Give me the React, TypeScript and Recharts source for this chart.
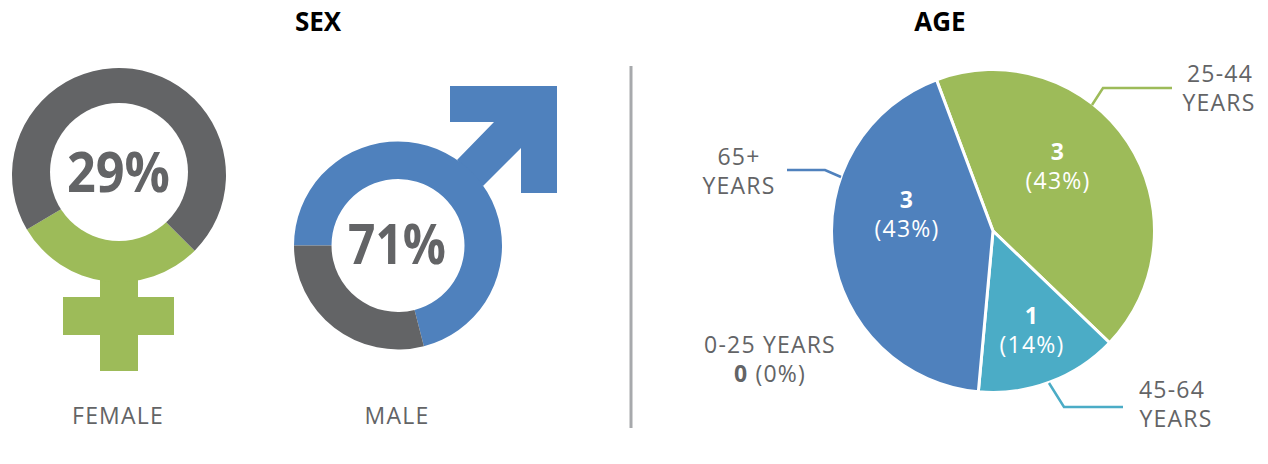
import { PieChart, Pie, Cell } from "recharts";

const femaleNames = ["Female", "Other"];
const femaleValues = [29, 71];
const maleNames = ["Male", "Other"];
const maleValues = [71, 29];

const ageNames = ["25-44 YEARS", "45-64 YEARS", "0-25 YEARS", "65+ YEARS"];
const ageCounts = [3, 1, 0, 3];
const agePercents = ["43%", "14%", "0%", "43%"];

const GREEN = "#9dbb59";
const BLUE = "#4f81bd";
const TEAL = "#4bacc6";
const GRAY = "#636466";

const femaleColors = [GREEN, GRAY];
const maleColors = [BLUE, GRAY];
const ageColors = [GREEN, TEAL, "#8064a2", BLUE];

const FONT = "'Open Sans', sans-serif";
const TRACK = 1.2;

const femaleData = femaleNames.map((name, i) => ({ name, value: femaleValues[i] }));
const maleData = maleNames.map((name, i) => ({ name, value: maleValues[i] }));
const ageData = ageNames.map((name, i) => ({
  name,
  value: ageCounts[i],
  percent: agePercents[i]
}));

// where the hand placed labels sit, by slice
const insideSpots: any = {
  "25-44 YEARS": [1058, 160, 189],
  "45-64 YEARS": [1032, 324, 353],
  "65+ YEARS": [907, 208, 237]
};

const leaders: any = {
  "25-44 YEARS": "1092,105 1103,88 1172,88",
  "45-64 YEARS": "1049,383 1064,407 1123,407",
  "65+ YEARS": "787,170 825,170 841,177"
};

const outsideText: any = {
  "25-44 YEARS": [1220, "25-44", 82, 111, 1219],
  "45-64 YEARS": [1172, "45-64", 398, 427, 1176],
  "65+ YEARS": [739, "65+", 165, 194, 739]
};

function AgeLabel(props: any) {
  const { index } = props;
  const label = ageData[index];

  if (!label) return null;

  if (label.value === 0) {
    return (
      <g fontFamily={FONT} fontSize={23} fill={GRAY} textAnchor="middle" letterSpacing={TRACK}>
        <text x={770} y={353}>{label.name}</text>
        <text x={770} y={382}>
          <tspan fontWeight={700}>{label.value}</tspan> ({label.percent})
        </text>
      </g>
    );
  }

  const spot = insideSpots[label.name];
  const out = outsideText[label.name];

  return (
    <g fontFamily={FONT} fontSize={23} textAnchor="middle" letterSpacing={TRACK}>
      <polyline
        points={leaders[label.name]}
        fill="none"
        stroke={ageColors[index]}
        strokeWidth={2.5}
      />
      <text x={spot[0]} y={spot[1]} fill="#fff" fontWeight={700}>{label.value}</text>
      <text x={spot[0]} y={spot[2]} fill="#fff">({label.percent})</text>
      <text x={out[0]} y={out[2]} fill={GRAY}>{out[1]}</text>
      <text x={out[4]} y={out[3]} fill={GRAY}>YEARS</text>
    </g>
  );
}

export default function App() {
  return (
    <div style={{ position: "absolute", left: 0, top: 0, width: 1268, height: 464 }}>
      <PieChart
        width={1268}
        height={464}
        margin={{ top: 0, right: 0, bottom: 0, left: 0 }}
      >
        <text x={318} y={31} textAnchor="middle" fontFamily={FONT} fontSize={26} fontWeight={700} fill="#000">SEX</text>
        <text x={940} y={31} textAnchor="middle" fontFamily={FONT} fontSize={26} fontWeight={700} fill="#000">AGE</text>

        <line x1={631} y1={66} x2={631} y2={428} stroke="#a7a9ac" strokeWidth={3} />

        <polygon
          points="100,260 138,260 138,297 174,297 174,335 138,335 138,371 100,371 100,335 63,335 63,297 100,297"
          fill={GREEN}
        />
        <polygon
          points="450,86 557,86 557,193 521,193 521,148 483,186 457,160 494,122 450,122"
          fill={BLUE}
        />

        <Pie
          data={femaleData}
          dataKey="value"
          nameKey="name"
          cx={119}
          cy={175}
          innerRadius={60}
          outerRadius={107}
          startAngle={-45}
          endAngle={-405}
          stroke="none"
          isAnimationActive={false}
        >
          {femaleData.map((d, i) => <Cell key={d.name} fill={femaleColors[i]} />)}
        </Pie>

        <Pie
          data={maleData}
          dataKey="value"
          nameKey="name"
          cx={398}
          cy={245.5}
          innerRadius={66.5}
          outerRadius={104}
          startAngle={180}
          endAngle={-180}
          stroke="none"
          isAnimationActive={false}
        >
          {maleData.map((d, i) => <Cell key={d.name} fill={maleColors[i]} />)}
        </Pie>

        <Pie
          data={ageData}
          dataKey="value"
          nameKey="name"
          cx={993}
          cy={231}
          innerRadius={0}
          outerRadius={161.5}
          startAngle={110.5}
          endAngle={-249.5}
          stroke="#fff"
          strokeWidth={3}
          label={AgeLabel}
          labelLine={false}
          isAnimationActive={false}
        >
          {ageData.map((d, i) => <Cell key={d.name} fill={ageColors[i]} />)}
        </Pie>

        <text x={397} y={264} textAnchor="middle" fontFamily={FONT} fontSize={56} fontWeight={700} fill={GRAY} textLength={98} lengthAdjust="spacingAndGlyphs">71%</text>

        <text x={118} y={424} textAnchor="middle" fontFamily={FONT} fontSize={23} fill={GRAY} letterSpacing={TRACK}>FEMALE</text>
        <text x={397} y={424} textAnchor="middle" fontFamily={FONT} fontSize={23} fill={GRAY} letterSpacing={TRACK}>MALE</text>
      </PieChart>

      {/* the hole of the female ring sits a little above the centre of the ring,
          and Recharts paints sectors over svg children, so it goes on top */}
      <svg
        width={1268}
        height={464}
        style={{ position: "absolute", left: 0, top: 0, pointerEvents: "none" }}
      >
        <circle cx={119} cy={172} r={69} fill="#fff" />
        <text x={118.5} y={192} textAnchor="middle" fontFamily={FONT} fontSize={56} fontWeight={700} fill={GRAY} textLength={103} lengthAdjust="spacingAndGlyphs">29%</text>
      </svg>
    </div>
  );
}
